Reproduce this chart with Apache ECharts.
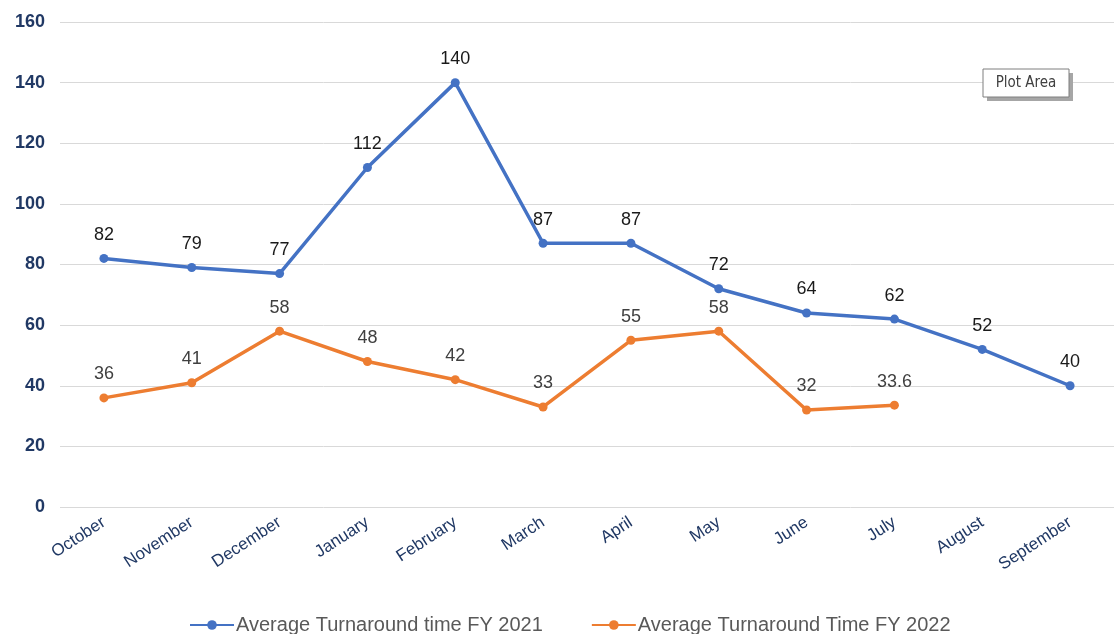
<!DOCTYPE html>
<html><head><meta charset="utf-8">
<script src="https://cdn.jsdelivr.net/npm/echarts@6/dist/echarts.min.js"></script>
<style>html,body{margin:0;padding:0;background:#fff}#c{width:1116px;height:634px}</style>
</head><body><div id="c"></div>
<script>
const months = ['October','November','December','January','February','March','April','May','June','July','August','September'];
const fy2021 = [82,79,77,112,140,87,87,72,64,62,52,40];
const fy2022 = [36,41,58,48,42,33,55,58,32,33.6,null,null];
const yTicks = {min:0,max:160,interval:20};
const names = ['Average Turnaround time FY 2021','Average Turnaround Time FY 2022'];

const chart = echarts.init(document.getElementById('c'));
chart.setOption({
  animation:false,
  textStyle:{fontFamily:'Liberation Sans, Arial, sans-serif'},
  grid:{left:60,right:2,top:22,bottom:127},
  xAxis:{type:'category',data:months,boundaryGap:true,
    axisLine:{show:false},axisTick:{show:false},
    axisLabel:{rotate:33,color:'#203864',fontSize:17,margin:14,interval:0}},
  yAxis:{type:'value',min:yTicks.min,max:yTicks.max,interval:yTicks.interval,
    axisLine:{show:false},axisTick:{show:false},
    splitLine:{lineStyle:{color:'#d9d9d9',width:1}},
    axisLabel:{color:'#203864',fontSize:18,fontWeight:'bold',margin:15}},
  legend:{top:610,left:184,itemGap:48,itemWidth:44,itemHeight:12,
    textStyle:{color:'#595959',fontSize:20,padding:[0,0,0,-3]},
    data:names},
  series:[
    {name:names[0],type:'line',data:fy2021,symbol:'circle',symbolSize:9,
      lineStyle:{color:'#4472C4',width:3.5},itemStyle:{color:'#4472C4'},
      label:{show:true,position:'top',distance:10,color:'#1a1a1a',fontSize:18}},
    {name:names[1],type:'line',data:fy2022,symbol:'circle',symbolSize:9,
      lineStyle:{color:'#ED7D31',width:3.5},itemStyle:{color:'#ED7D31'},
      label:{show:true,position:'top',distance:10,color:'#404040',fontSize:18}}
  ],
  graphic:[
    {type:'rect',shape:{x:987,y:73,width:86,height:28},style:{fill:'#a6a6a6'},z:100},
    {type:'rect',shape:{x:983,y:69,width:86,height:28},style:{fill:'#fff',stroke:'#7f7f7f',lineWidth:1},z:101},
    {type:'text',x:1026,y:83,style:{text:'Plot Area',fill:'#404040',fontSize:15,fontFamily:'DejaVu Sans Condensed, sans-serif',align:'center',verticalAlign:'middle'},z:102}
  ]
});
</script></body></html>
